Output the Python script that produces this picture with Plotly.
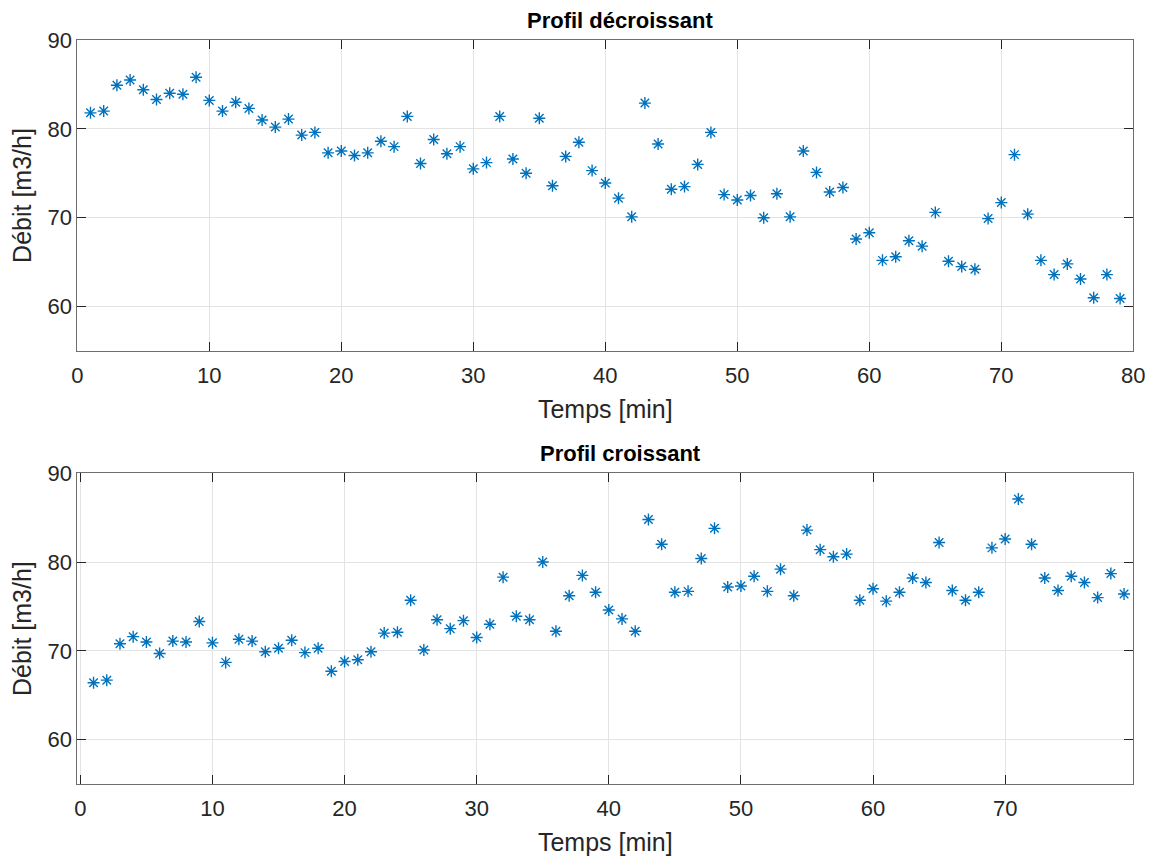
import plotly.graph_objects as go

# Data: time [min] and flow [m3/h] for both profiles
temps = list(range(1, 80))

debit_decroissant = [
    81.8, 82.0, 84.9, 85.5, 84.4, 83.3, 84.0, 83.9, 85.8, 83.2,
    82.0, 83.0, 82.3, 81.0, 80.2, 81.1, 79.3, 79.6, 77.3, 77.5,
    77.0, 77.3, 78.6, 78.0, 81.4, 76.1, 78.8, 77.2, 78.0, 75.5,
    76.2, 81.4, 76.6, 75.0, 81.2, 73.6, 76.9, 78.5, 75.3, 73.9,
    72.2, 70.1, 82.9, 78.3, 73.2, 73.5, 76.0, 79.6, 72.6, 72.0,
    72.5, 70.0, 72.7, 70.1, 77.5, 75.1, 72.9, 73.4, 67.6, 68.3,
    65.2, 65.6, 67.4, 66.8, 70.6, 65.1, 64.5, 64.2, 69.9, 71.7,
    77.1, 70.4, 65.2, 63.6, 64.8, 63.1, 61.0, 63.6, 60.9,
]

debit_croissant = [
    66.4, 66.7, 70.8, 71.6, 71.0, 69.7, 71.1, 71.0, 73.3, 70.9,
    68.7, 71.3, 71.1, 69.9, 70.3, 71.2, 69.8, 70.3, 67.7, 68.8,
    69.0, 69.9, 72.0, 72.1, 75.7, 70.1, 73.5, 72.5, 73.4, 71.5,
    73.0, 78.3, 73.9, 73.5, 80.0, 72.2, 76.2, 78.5, 76.6, 74.6,
    73.6, 72.2, 84.8, 82.0, 76.6, 76.7, 80.4, 83.8, 77.2, 77.3,
    78.4, 76.7, 79.2, 76.2, 83.6, 81.4, 80.6, 80.9, 75.7, 77.0,
    75.6, 76.6, 78.2, 77.7, 82.2, 76.8, 75.7, 76.6, 81.6, 82.6,
    87.1, 82.0, 78.2, 76.8, 78.4, 77.7, 76.0, 78.7, 76.4,
]

x_ticks = [0, 10, 20, 30, 40, 50, 60, 70, 80]
y_ticks = [60, 70, 80, 90]

# the page body adds an 8px margin, so the figure is a bit smaller
OFF = 8
W, H = 1153 - OFF, 859 - OFF
BLUE = "#0072BD"
FONT = "Liberation Sans, Arial, sans-serif"
AXIS_COLOR = "#262626"


def px_x(p):
    return (p - OFF) / W


def px_y(p):
    return 1 - (p - OFF) / H


def star_trace(x, y, xa, ya):
    return go.Scatter(
        x=x, y=y, xaxis=xa, yaxis=ya, mode="markers",
        marker=dict(symbol="asterisk-open", size=10, color=BLUE,
                    line=dict(color=BLUE, width=1.4)),
        showlegend=False, hoverinfo="x+y",
    )


fig = go.Figure()
fig.add_trace(star_trace(temps, debit_decroissant, "x", "y"))
fig.add_trace(star_trace(temps, debit_croissant, "x2", "y2"))

common_axis = dict(
    showline=True, linecolor="#6e6e6e", linewidth=1, mirror="ticks",
    ticks="inside", ticklen=9, tickcolor=AXIS_COLOR, tickwidth=1,
    showgrid=True, gridcolor="#e3e3e3", gridwidth=1,
    zeroline=False, automargin=False,
    tickfont=dict(family=FONT, size=22, color=AXIS_COLOR),
)

x_title = dict(text="Temps [min]", font=dict(family=FONT, size=25, color=AXIS_COLOR), standoff=13)
y_title = dict(text="Débit [m3/h]", font=dict(family=FONT, size=25, color=AXIS_COLOR), standoff=8)

fig.update_layout(
    width=W, height=H,
    margin=dict(l=0, r=0, t=0, b=0),
    paper_bgcolor="white", plot_bgcolor="white",
    xaxis=dict(common_axis, domain=[px_x(77.3), px_x(1133.3)], range=[0, 80],
               tickvals=x_ticks, anchor="y", title=x_title, ticklabelstandoff=5),
    yaxis=dict(common_axis, domain=[px_y(351), px_y(40)], range=[55, 90],
               tickvals=y_ticks, anchor="x", title=y_title),
    xaxis2=dict(common_axis, domain=[px_x(77.3), px_x(1133.3)], range=[-0.23, 79.7],
                tickvals=x_ticks, anchor="y2", title=x_title, ticklabelstandoff=5),
    yaxis2=dict(common_axis, domain=[px_y(784), px_y(473.3)], range=[55, 90],
                tickvals=y_ticks, anchor="x2", title=y_title),
    annotations=[
        dict(text="<b>Profil décroissant</b>", x=px_x(620), y=px_y(21),
             xref="paper", yref="paper", xanchor="center", yanchor="middle",
             showarrow=False, font=dict(family=FONT, size=22, color="black")),
        dict(text="<b>Profil croissant</b>", x=px_x(620), y=px_y(453),
             xref="paper", yref="paper", xanchor="center", yanchor="middle",
             showarrow=False, font=dict(family=FONT, size=22, color="black")),
    ],
)

fig.write_html("out.html")
